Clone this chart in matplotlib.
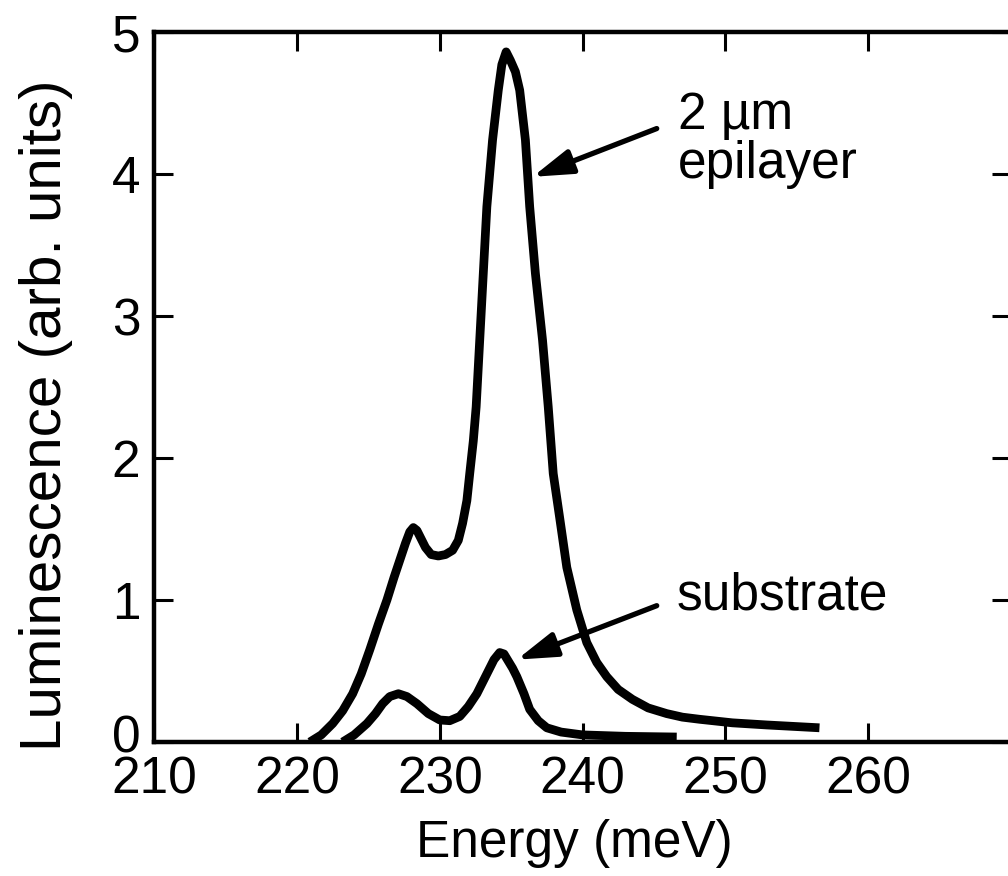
"""Luminescence spectra: 2 um epilayer vs substrate."""
import matplotlib
matplotlib.use("Agg")
import matplotlib.pyplot as plt
from matplotlib.transforms import ScaledTranslation

plt.rcParams["font.family"] = ["Liberation Sans", "DejaVu Sans"]

# values
epi_energy = [220.9, 221.7, 222.5, 223.2, 223.9, 224.5, 225.1, 225.7, 226.3,
              226.8, 227.2, 227.6, 227.9, 228.15, 228.4, 228.7, 229.0, 229.4,
              229.9, 230.4, 230.9, 231.3, 231.6, 231.9, 232.1, 232.35, 232.55,
              232.8, 233.05, 233.3, 233.7, 234.1, 234.35, 234.65, 234.95,
              235.3, 235.6, 236.0, 236.3, 236.7, 237.2, 237.6, 237.95, 238.4,
              238.9, 239.6, 240.3, 241.0, 241.7, 242.5, 243.5, 244.6, 245.9,
              247.0, 248.2, 250.5, 252.9, 256.6]
epi_lum = [0.0, 0.05, 0.13, 0.22, 0.34, 0.48, 0.65, 0.83, 1.00,
           1.16, 1.28, 1.40, 1.48, 1.51, 1.49, 1.43, 1.37, 1.32,
           1.31, 1.32, 1.35, 1.42, 1.54, 1.70, 1.89, 2.12, 2.36,
           2.83, 3.30, 3.77, 4.24, 4.59, 4.77, 4.86, 4.80,
           4.72, 4.59, 4.24, 3.77, 3.30, 2.83, 2.36, 1.89, 1.58,
           1.23, 0.93, 0.70, 0.56, 0.46, 0.37, 0.30, 0.24, 0.20,
           0.175, 0.16, 0.135, 0.12, 0.10]

sub_energy = [223.2, 224.0, 224.9, 225.5, 226.0, 226.5, 227.1, 227.7, 228.4,
              229.2, 230.0, 230.7, 231.4, 232.0, 232.6, 233.0, 233.4, 233.8,
              234.2, 234.5, 234.8, 235.1, 235.4, 235.9, 236.3, 236.9, 237.5,
              238.5, 240.0, 243.0, 246.6]
sub_lum = [0.0, 0.05, 0.13, 0.20, 0.27, 0.32, 0.34, 0.32, 0.27,
           0.20, 0.155, 0.15, 0.18, 0.25, 0.34, 0.42, 0.50, 0.58,
           0.63, 0.62, 0.57, 0.52, 0.46, 0.34, 0.23, 0.15, 0.10,
           0.07, 0.05, 0.04, 0.035]

x_ticks = [210, 220, 230, 240, 250, 260]
y_ticks = [0, 1, 2, 3, 4, 5]

# arrow (tail, tip) and label anchors, data coords
epi_arrow = ((245.2, 4.32), (236.5, 3.98))
sub_arrow = ((245.2, 0.96), (235.4, 0.58))


fig = plt.figure(figsize=(10.08, 8.76), dpi=100)
ax = fig.add_axes([154.25 / 1008, 134 / 876, 856.5 / 1008, 710 / 876])

line_kw = dict(color="black", lw=6.3, solid_joinstyle="round",
               solid_capstyle="butt", zorder=3)
ax.plot(epi_energy, epi_lum, **line_kw)
ax.plot(sub_energy, sub_lum, **line_kw)

ax.set_xlim(210, 270)
ax.set_ylim(0, 5)
ax.set_xticks(x_ticks)
ax.set_yticks(y_ticks)

for s in ax.spines.values():
    s.set_linewidth(3.2)
ax.tick_params(direction="in", length=14, width=2.2, labelsize=37,
               top=True, right=True)
ax.tick_params(axis="x", pad=10)
ax.tick_params(axis="y", pad=10)

# the "0" sits a little above the axis line in the original
zero_lbl = ax.get_yticklabels()[0]
zero_lbl.set_transform(zero_lbl.get_transform()
                       + ScaledTranslation(0, 6 / 72, fig.dpi_scale_trans))

ax.set_xlabel("Energy (meV)", fontsize=37)
ax.set_ylabel("Luminescence (arb. units)", fontsize=42)
ax.xaxis.set_label_coords(0.491, -0.108)
ax.yaxis.set_label_coords(-0.095, 0.46)

arrow_kw = dict(arrowstyle="-|>,head_length=2.4,head_width=0.75",
                color="black", lw=3.8, mutation_scale=10,
                shrinkA=0, shrinkB=0)
ax.annotate("", xy=epi_arrow[1], xytext=epi_arrow[0], arrowprops=arrow_kw)
ax.annotate("", xy=sub_arrow[1], xytext=sub_arrow[0], arrowprops=arrow_kw)

ax.text(246.69, 4.24, "2 \u00b5m\nepilayer", fontsize=37, ha="left",
        va="center", linespacing=0.98)
ax.text(246.6, 0.93, "substrate", fontsize=37, ha="left", va="baseline")

fig.savefig("out.png", dpi=100)
